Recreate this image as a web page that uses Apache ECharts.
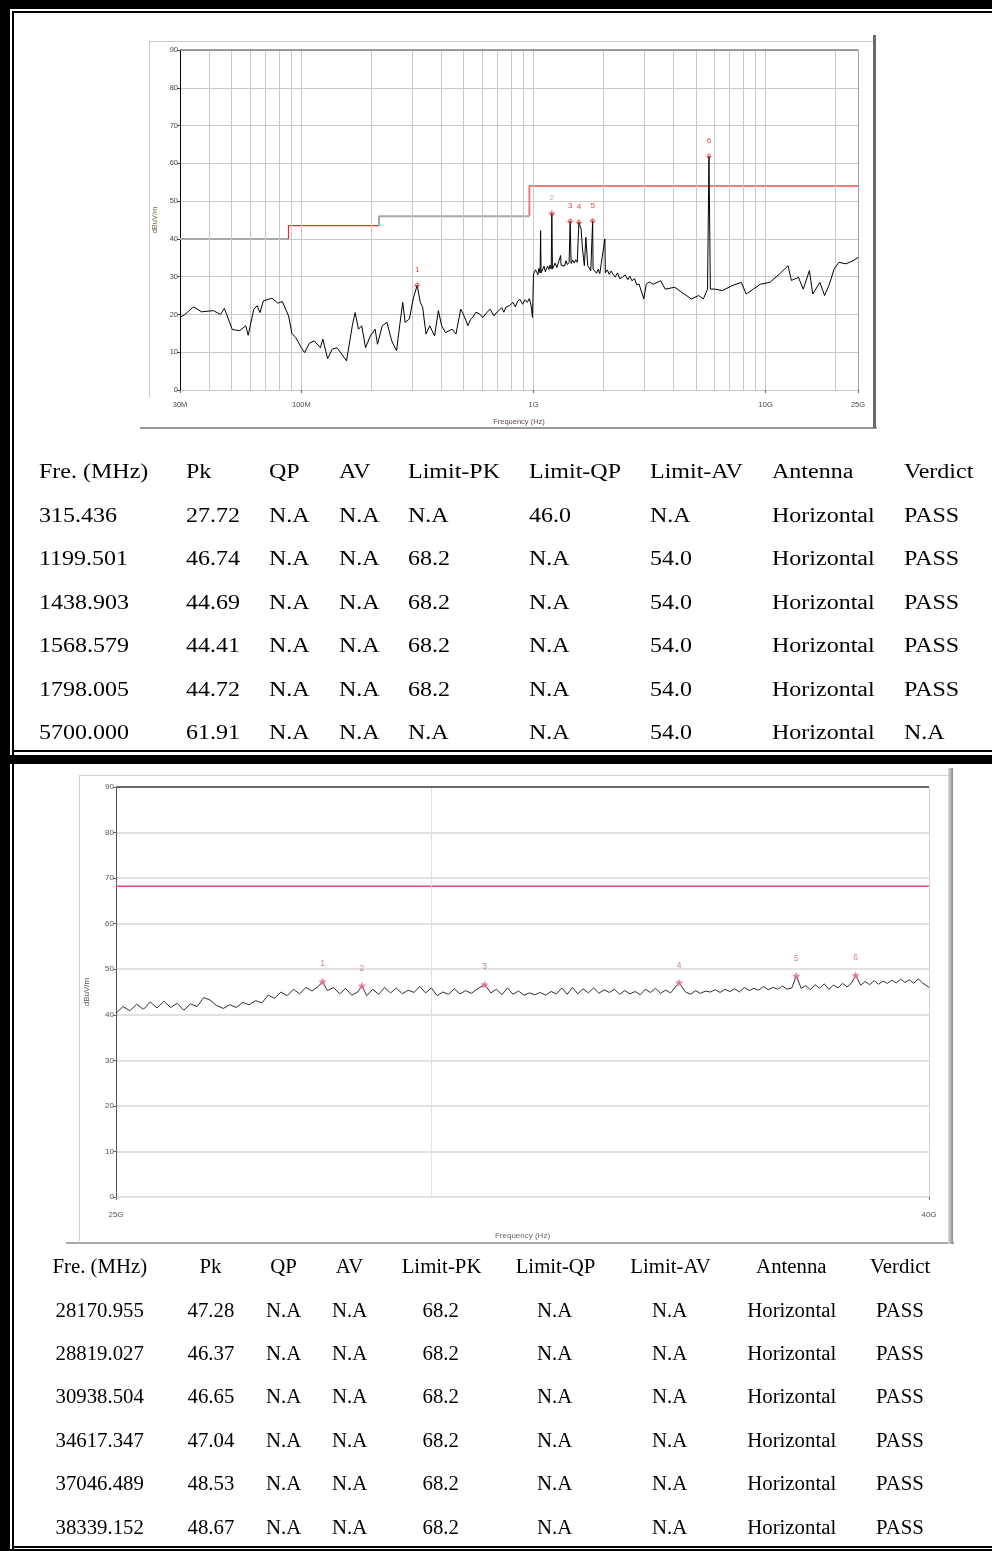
<!DOCTYPE html>
<html><head><meta charset="utf-8">
<script src="https://cdn.jsdelivr.net/npm/echarts@6/dist/echarts.min.js"></script>
<style>
html,body{margin:0;padding:0;background:#fff;}
#page{position:relative;width:992px;height:1551px;overflow:hidden;background:#fff;}
#chart{position:absolute;left:0;top:0;width:992px;height:1551px;z-index:2;}
.b{position:absolute;background:#000;z-index:4;}
.f{position:absolute;z-index:1;}
.cell{position:absolute;font-family:"Liberation Serif","DejaVu Serif",serif;font-size:20px;line-height:24px;height:24px;white-space:nowrap;color:#000;z-index:3;}
</style></head><body><div id="page"><div id="chart"></div></div>
<script>
// ---------------- DATA ----------------
// Top chart (30 MHz - 25 GHz), frequency in MHz, level in dBuV/m
const topTickValues = [30, 100, 1000, 10000, 25000];
const topTickLabels = ['30M', '100M', '1G', '10G', '25G'];
const topGridFreqs = [40,50,60,70,80,90,100,200,300,400,500,600,700,800,900,1000,2000,3000,4000,5000,6000,7000,8000,9000,10000,20000];
const limitFreqs = [30, 88, 216, 960, 25000];
const limitLevels = [40, 43.5, 46, 54];
const topTrace = [
 [30,19.2],[31.5,20],[34.3,22],[37.1,20.7],[41.8,21],[44.8,20],[46.6,21.6],[50.4,16],[54.2,15.7],[57.6,17],[59,14.5],
 [62.4,21.4],[64.5,22.3],[66.3,20.5],[68.6,23.6],[74.7,24.3],[79.1,23],[82.8,23.4],[88.1,19.6],[91,15],[94.5,13.9],
 [100,11.2],[103.3,9.9],[108.3,12.4],[113.6,13],[120.8,11.2],[123.7,13.5],[129.7,8.3],[135.9,10.8],[142.4,11.2],
 [149.3,9.5],[156.5,7.7],[165.7,17],[170.4,20.5],[176.2,16.1],[182,17],[189,11.2],[198.2,14.3],[207.8,16.1],
 [212.8,12.1],[223,17],[233.8,17.9],[245,13],[257,10.4],[265.6,17.4],[273.3,23.2],[279.8,17.9],[291.9,18.8],
 [303.1,24.1],[315.436,27.72],[325.3,23.2],[333,21.9],[344.3,14.8],[357.4,17],[374.8,14.3],[389.2,21],[402.2,17],
 [417.8,15.2],[446.2,16.1],[463.4,14.8],[485.8,21.4],[502,19.6],[512,18.4],[521.4,17],[535,18.6],[546.6,19.2],
 [565,20.6],[586.7,20.1],[605,19.2],[629.6,20.5],[650,21.4],[676.1,19.6],[690,20.4],[708.5,21],[730,21.8],
 [745,20.6],[760.5,21.9],[790,22.4],[816.4,23.2],[835,22],[855.9,23.6],[875,24],[897.3,22.7],[920,23.9],
 [940.5,23.2],[960,24.2],[976.8,22.3],[990,19.2],[1000,30.7],[1010,30.2],[1020,31.8],[1033.6,31.6],[1045,30.5],
 [1055,32.2],[1068,31],[1073,42.2],[1078,31],[1095,31.5],[1110,32.8],[1125,31.3],[1135.7,32],[1150,32.8],
 [1165,31.9],[1180,33.1],[1192,32],[1199.501,46.74],[1207,32],[1225,32.5],[1240,33.6],[1260,32.4],[1278,32.9],
 [1308.6,35.6],[1315,33],[1340,33.5],[1360,32.8],[1380,34.2],[1400,33.2],[1424,33.8],[1438.903,44.69],[1452,33.5],
 [1475,34.4],[1500,33.6],[1520,34.5],[1543.5,33.8],[1568.579,44.41],[1603,42.6],[1626,37.3],[1656,32.9],[1681,40.4],
 [1713,32.9],[1740,32.4],[1765,31.6],[1790,32],[1798.005,44.72],[1806,32],[1840,31.8],[1870,30.9],[1900,32],
 [1930,30.8],[1954,31.2],[2030,40],[2040,31],[2080,31.8],[2120,30.6],[2160,31.5],[2198,30.7],[2250,29.9],
 [2300,31],[2350,29.5],[2416,29.8],[2480,30.5],[2550,29.2],[2600,30.1],[2656,28.9],[2720,29.5],[2790,27.8],
 [2851,28],[2900,27.5],[2986,24.1],[3060,28],[3150,28.6],[3200,28.9],[3284,28],[3526,28.9],[3695,26.7],[4061,27.2],
 [4463,25.4],[4788,24.1],[5140,25],[5391,24.1],[5620,26.7],[5700,61.91],[5780,26.7],[6066,26.7],[6510,26.3],
 [7153,27.6],[7862,28.5],[8241,25.4],[8845,26.7],[9495,28],[10430,28.5],[11470,30.7],[12490,32.9],[12910,29],
 [13850,29.8],[14520,26.7],[15440,31.6],[15960,25.4],[17130,28.5],[17950,25],[18820,28],[19720,32],[20690,33.8],
 [22200,33.4],[23800,34.2],[25000,35.1]
];
const topMarkerLabels = ['1','2','3','4','5','6'];
const topMarkerFreqs = [315.436, 1199.501, 1438.903, 1568.579, 1798.005, 5700.000];
const topMarkerPk = [27.72, 46.74, 44.69, 44.41, 44.72, 61.91];

// Bottom chart (25 GHz - 40 GHz)
const botTickValues = [25000, 40000];
const botTickLabels = ['25G', '40G'];
const botGridFreqs = [30000];
const botLimit = 68.2;
const botTrace = [
 [25000,40.3],[25100,41.8],[25200,40.9],[25300,42.3],[25400,41.2],[25500,42.8],[25600,41.5],[25700,43.0],[25800,41.6],
 [25900,42.5],[26000,41.0],[26100,42.4],[26200,41.8],[26300,43.8],[26400,43.2],[26500,42.0],[26600,41.4],[26700,42.2],
 [26800,41.6],[26900,42.7],[27000,42.2],[27100,43.1],[27200,42.6],[27300,44.3],[27400,43.6],[27500,45.0],[27600,44.2],
 [27700,45.6],[27800,44.6],[27900,46.0],[28000,45.2],[28100,46.2],[28170.955,47.28],[28250,45.3],[28350,46.0],
 [28450,44.6],[28550,45.8],[28650,44.3],[28750,45.0],[28819.027,46.37],[28900,44.2],[29000,45.6],[29100,44.5],
 [29200,46.0],[29300,44.8],[29400,45.9],[29500,44.6],[29600,45.4],[29700,44.9],[29800,46.2],[29900,44.8],[30000,45.9],
 [30100,44.2],[30200,45.0],[30300,44.5],[30400,45.7],[30500,44.6],[30600,45.3],[30700,44.7],[30800,45.6],
 [30938.504,46.65],[31050,44.8],[31150,45.6],[31250,44.4],[31350,45.9],[31450,44.5],[31550,45.2],[31650,44.3],
 [31750,44.8],[31850,44.4],[31950,44.9],[32050,44.3],[32150,45.1],[32250,44.6],[32350,45.9],[32450,44.5],[32550,46.0],
 [32650,44.6],[32750,45.7],[32850,44.8],[32950,45.9],[33050,44.7],[33150,45.5],[33250,44.9],[33350,45.6],[33450,44.5],
 [33550,45.3],[33650,44.6],[33750,45.1],[33850,44.4],[33950,45.6],[34050,44.9],[34150,45.8],[34250,44.7],[34350,45.4],
 [34450,44.8],[34617.347,47.04],[34750,45.0],[34850,44.5],[34950,45.3],[35050,44.7],[35150,45.2],[35250,45.0],
 [35350,45.5],[35450,44.9],[35550,45.6],[35650,45.1],[35750,45.7],[35850,45.0],[35950,46.0],[36050,45.3],[36150,45.8],
 [36250,45.4],[36350,46.2],[36450,45.5],[36550,46.0],[36650,45.6],[36750,46.3],[36850,45.6],[36950,45.9],
 [37046.489,48.53],[37150,45.8],[37250,46.4],[37350,45.5],[37450,46.6],[37550,45.8],[37650,46.8],[37750,45.6],
 [37850,46.5],[37950,45.9],[38050,46.9],[38150,46.1],[38250,47.0],[38339.152,48.67],[38450,46.5],[38550,47.3],
 [38650,46.6],[38750,47.5],[38850,46.7],[38950,47.4],[39050,46.9],[39150,47.6],[39250,47.0],[39350,47.8],[39450,47.1],
 [39550,47.7],[39650,46.9],[39750,47.9],[39850,47.0],[40000,46.0]
];
const botMarkerLabels = ['1','2','3','4','5','6'];
const botMarkerFreqs = [28170.955, 28819.027, 30938.504, 34617.347, 37046.489, 38339.152];
const botMarkerPk = [47.28, 46.37, 46.65, 47.04, 48.53, 48.67];

// Tables
const tableHeader = ['Fre. (MHz)','Pk','QP','AV','Limit-PK','Limit-QP','Limit-AV','Antenna','Verdict'];
const topFre = ['315.436','1199.501','1438.903','1568.579','1798.005','5700.000'];
const topPk = ['27.72','46.74','44.69','44.41','44.72','61.91'];
const topQP = ['N.A','N.A','N.A','N.A','N.A','N.A'];
const topAV = ['N.A','N.A','N.A','N.A','N.A','N.A'];
const topLimPK = ['N.A','68.2','68.2','68.2','68.2','N.A'];
const topLimQP = ['46.0','N.A','N.A','N.A','N.A','N.A'];
const topLimAV = ['N.A','54.0','54.0','54.0','54.0','54.0'];
const topAnt = ['Horizontal','Horizontal','Horizontal','Horizontal','Horizontal','Horizontal'];
const topVerdict = ['PASS','PASS','PASS','PASS','PASS','N.A'];
const botFre = ['28170.955','28819.027','30938.504','34617.347','37046.489','38339.152'];
const botPk = ['47.28','46.37','46.65','47.04','48.53','48.67'];
const botQP = ['N.A','N.A','N.A','N.A','N.A','N.A'];
const botAV = ['N.A','N.A','N.A','N.A','N.A','N.A'];
const botLimPK = ['68.2','68.2','68.2','68.2','68.2','68.2'];
const botLimQP = ['N.A','N.A','N.A','N.A','N.A','N.A'];
const botLimAV = ['N.A','N.A','N.A','N.A','N.A','N.A'];
const botAnt = ['Horizontal','Horizontal','Horizontal','Horizontal','Horizontal','Horizontal'];
const botVerdict = ['PASS','PASS','PASS','PASS','PASS','PASS'];

// ---------------- PAGE DECOR ----------------
const page = document.getElementById('page');
function box(cls, l, t, w, h, style) {
  const d = document.createElement('div');
  d.className = cls;
  d.style.left = l + 'px'; d.style.top = t + 'px'; d.style.width = w + 'px'; d.style.height = h + 'px';
  if (style) Object.assign(d.style, style);
  page.appendChild(d);
}
// borders
box('b', 0, 0, 992, 9);
box('b', 0, 0, 10, 1551);
box('b', 12, 11, 980, 2);
box('b', 12, 11, 2, 1540);
box('b', 12, 750, 980, 2);
box('b', 0, 755, 992, 9);
box('b', 12, 1546, 980, 2);
box('b', 0, 1549, 992, 2);
// chart picture frames
box('f', 149, 41, 726, 1, {background:'#c8c8c8'});
box('f', 149, 41, 1, 356, {background:'#c8c8c8'});
box('f', 140, 427, 737, 2, {background:'#9a9a9a'});
box('f', 873, 35, 3, 393, {background:'#6a6a6a'});
box('f', 79, 775, 872, 1, {background:'#d0d0d0'});
box('f', 79, 775, 1, 466, {background:'#d0d0d0'});
box('f', 66, 1242, 888, 2, {background:'#a8a8a8'});
box('f', 948, 768, 5, 476, {background:'linear-gradient(to right,#e0e0e0,#8a8a8a)'});

// tables
function topTable(rowY, cols) {
  const xs = [39,186,269,339,408,529,650,772,904];
  rowY.forEach((y, r) => {
    cols[r].forEach((txt, c) => {
      const d = document.createElement('div');
      d.className = 'cell';
      d.textContent = txt;
      d.style.left = xs[c] + 'px';
      d.style.top = (y - 12) + 'px';
      d.style.transformOrigin = '0 50%';
      d.style.transform = 'scaleX(1.2)';
      page.appendChild(d);
    });
  });
}
function botTable(rowY, cols) {
  const xs = [98,210,283,349,440,554,669,790,899];
  rowY.forEach((y, r) => {
    cols[r].forEach((txt, c) => {
      const d = document.createElement('div');
      d.className = 'cell';
      d.textContent = txt;
      d.style.left = xs[c] + 'px';
      d.style.top = (y - 12) + 'px';
      d.style.transformOrigin = '0 50%';
      d.style.transform = 'translateX(-50%) scaleX(1.04)';
      page.appendChild(d);
    });
  });
}
const topRows = [tableHeader].concat(topFre.map((f, i) => [f, topPk[i], topQP[i], topAV[i], topLimPK[i], topLimQP[i], topLimAV[i], topAnt[i], topVerdict[i]]));
const botRows = [tableHeader].concat(botFre.map((f, i) => [f, botPk[i], botQP[i], botAV[i], botLimPK[i], botLimQP[i], botLimAV[i], botAnt[i], botVerdict[i]]));
topTable([471,515,558,602,645,689,732], topRows);
botTable([1266,1310,1353,1396,1440,1483,1527], botRows);

// ---------------- CHART ----------------
function tickLabel(values, labels) {
  return function (v) {
    for (let i = 0; i < values.length; i++) {
      if (Math.abs(v - values[i]) / values[i] < 0.002) return labels[i];
    }
    return '';
  };
}
const limitColors = ['#a9a9a9', '#ff2020', '#a9a9a9', '#f47a7a'];
const limitWidths = [2, 1.2, 2, 2];
const limitSeries = limitLevels.map((lv, i) => {
  const pts = [];
  if (i > 0) pts.push([limitFreqs[i], limitLevels[i - 1]]);
  pts.push([limitFreqs[i], lv]);
  pts.push([limitFreqs[i + 1], lv]);
  return {
    type: 'line', xAxisIndex: 0, yAxisIndex: 0, data: pts, showSymbol: false, silent: true, z: 4,
    lineStyle: { color: limitColors[i], width: limitWidths[i] }
  };
});
const font = 'Liberation Sans';
const crossCircle = 'path://M10,0 A10,10 0 1,1 -10,0 A10,10 0 1,1 10,0 Z M7,0 A7,7 0 1,0 -7,0 A7,7 0 1,0 7,0 Z M-1,-16 L1,-16 L1,16 L-1,16 Z M-16,-1 L16,-1 L16,1 L-16,1 Z';
const option = {
  animation: false,
  grid: [
    { left: 180, top: 50, width: 678, height: 340 },
    { left: 116, top: 787, width: 813, height: 410 }
  ],
  xAxis: [
    { gridIndex: 0, type: 'log', logBase: 10, min: 30, max: 25000, offset: 7,
      axisLine: { show: false }, axisTick: { show: true, length: 3, lineStyle: { color: '#666' } },
      splitLine: { show: false },
      axisLabel: { fontSize: 7.5, color: '#444', margin: 4, fontFamily: font, formatter: tickLabel(topTickValues, topTickLabels), showMinLabel: true, showMaxLabel: true },
      name: 'Frequency (Hz)', nameLocation: 'middle', nameGap: 21,
      nameTextStyle: { fontSize: 7.5, color: '#6a4a55', fontFamily: font } },
    { gridIndex: 1, type: 'log', logBase: 10, min: 25000, max: 40000, offset: 8,
      axisLine: { show: false }, axisTick: { show: true, length: 3, lineStyle: { color: '#777' } },
      splitLine: { show: false },
      axisLabel: { fontSize: 8, color: '#555', margin: 6, fontFamily: font, formatter: tickLabel(botTickValues, botTickLabels), showMinLabel: true, showMaxLabel: true },
      name: 'Frequency (Hz)', nameLocation: 'middle', nameGap: 27,
      nameTextStyle: { fontSize: 8, color: '#666', fontFamily: font } }
  ],
  yAxis: [
    { gridIndex: 0, type: 'value', min: 0, max: 90, interval: 10,
      axisLine: { show: true, lineStyle: { color: '#000', width: 1 } },
      axisTick: { show: true, length: 3, lineStyle: { color: '#444' } },
      axisLabel: { fontSize: 7.5, color: '#444', margin: 2, fontFamily: font },
      splitLine: { show: true, lineStyle: { color: '#c8c8c8', width: 1 } },
      name: 'dBuV/m', nameLocation: 'middle', nameRotate: 90, nameGap: 20,
      nameTextStyle: { fontSize: 7.5, color: '#7a6a40', fontFamily: font } },
    { gridIndex: 1, type: 'value', min: 0, max: 90, interval: 10,
      axisLine: { show: true, lineStyle: { color: '#555', width: 1 } },
      axisTick: { show: true, length: 3, lineStyle: { color: '#666' } },
      axisLabel: { fontSize: 8, color: '#555', margin: 2, fontFamily: font },
      splitLine: { show: true, lineStyle: { color: '#d8d8d8', width: 1.5 } },
      name: 'dBuV/m', nameLocation: 'middle', nameRotate: 90, nameGap: 25,
      nameTextStyle: { fontSize: 8, color: '#555', fontFamily: font } }
  ],
  series: [
    { type: 'line', xAxisIndex: 0, yAxisIndex: 0, data: [[30, 0]], showSymbol: false, silent: true, z: 1,
      lineStyle: { opacity: 0 },
      markLine: { silent: true, symbol: ['none', 'none'], label: { show: false }, animation: false,
        lineStyle: { color: '#c8c8c8', width: 1, type: 'solid' },
        data: topGridFreqs.map(v => ({ xAxis: v })).concat([
          { yAxis: 90, lineStyle: { color: '#808080', width: 1.5, type: 'solid' } },
          { xAxis: 25000, lineStyle: { color: '#a0a0a0', width: 1, type: 'solid' } }
        ]) } },
    ...limitSeries,
    { type: 'line', xAxisIndex: 0, yAxisIndex: 0, data: topTrace, showSymbol: false, silent: true, z: 5,
      lineStyle: { color: '#000', width: 1 } },
    { type: 'scatter', xAxisIndex: 0, yAxisIndex: 0, z: 6, symbol: crossCircle, symbolSize: 7,
      itemStyle: { color: '#e01010' },
      label: { show: true, position: 'top', distance: 8, fontSize: 8, fontFamily: font, color: '#e01010',
        formatter: p => p.data.name },
      data: topMarkerFreqs.map((f, i) => ({ name: topMarkerLabels[i], value: [f, topMarkerPk[i]],
        label: i === 1 ? { color: '#999' } : undefined })) },
    { type: 'line', xAxisIndex: 1, yAxisIndex: 1, data: [[25000, 0]], showSymbol: false, silent: true, z: 1,
      lineStyle: { opacity: 0 },
      markLine: { silent: true, symbol: ['none', 'none'], label: { show: false }, animation: false,
        lineStyle: { color: '#e2e2e2', width: 1, type: 'solid' },
        data: botGridFreqs.map(v => ({ xAxis: v })).concat([
          { yAxis: 90, lineStyle: { color: '#6a6a6a', width: 2, type: 'solid' } },
          { xAxis: 40000, lineStyle: { color: '#d0d0d0', width: 1, type: 'solid' } }
        ]) } },
    { type: 'line', xAxisIndex: 1, yAxisIndex: 1, data: [[botTickValues[0], botLimit], [botTickValues[1], botLimit]],
      showSymbol: false, silent: true, z: 4, lineStyle: { color: '#e8457c', width: 1.5 } },
    { type: 'line', xAxisIndex: 1, yAxisIndex: 1, data: botTrace, showSymbol: false, silent: true, z: 5,
      lineStyle: { color: '#2e2e2e', width: 1 } },
    { type: 'scatter', xAxisIndex: 1, yAxisIndex: 1, z: 6,
      symbol: 'path://M0,-10 L2.9,-4 L9.5,-3.1 L4.8,1.5 L5.9,8.1 L0,5 L-5.9,8.1 L-4.8,1.5 L-9.5,-3.1 L-2.9,-4 Z',
      symbolSize: 8, itemStyle: { color: '#e8708f' },
      label: { show: true, position: 'top', distance: 9, fontSize: 8.5, fontFamily: font, color: '#c86080',
        formatter: p => p.data.name },
      data: botMarkerFreqs.map((f, i) => ({ name: botMarkerLabels[i], value: [f, botMarkerPk[i]] })) }
  ]
};
const chart = echarts.init(document.getElementById('chart'), null, { renderer: 'canvas' });
chart.setOption(option);
</script>
</body></html>
